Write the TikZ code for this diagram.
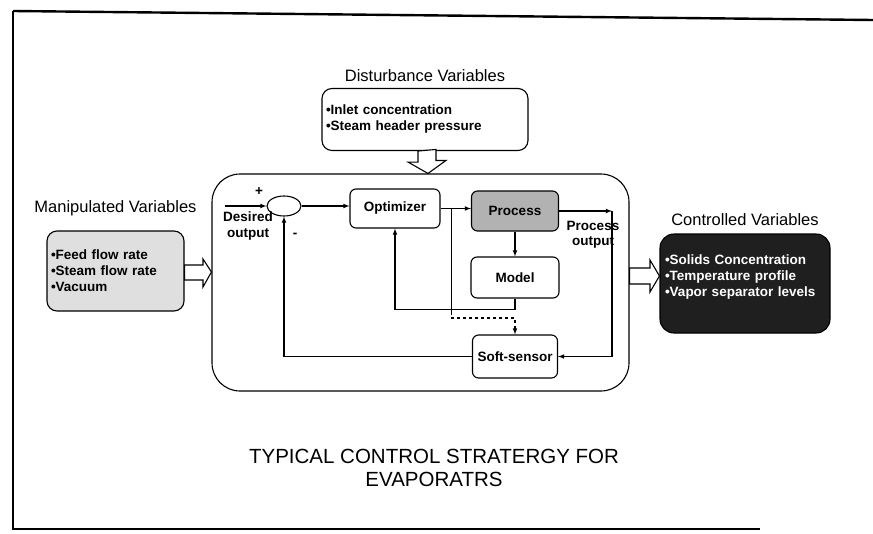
\documentclass[tikz,border=0pt]{standalone}
\usepackage{fontspec}
\setmainfont{Liberation Sans}
\usepackage{tikz}
\usetikzlibrary{positioning,shapes.geometric,calc}

\begin{document}
\begin{tikzpicture} [
	x=1pt,y=-1pt,
	text centered,
	node distance=2pt,
	>=latex,
	line width=1.1pt,
	ntitle/.style={
		font=\fontsize{16.5}{19}\selectfont
	},
	nlist/.style={
		rectangle,rounded corners=10pt,draw,align=left,
		font=\bfseries\fontsize{13.5}{16}\selectfont
	},
	nblock/.style={
		rectangle,rounded corners=6pt,draw,
		font=\bfseries\fontsize{13.5}{16}\selectfont
	},
	nlabel/.style={
		align=center,inner sep=0pt,
		font=\bfseries\fontsize{13.5}{15.5}\selectfont
	},
	fat/.style={
		draw,fill=white
	}
]
\useasboundingbox (0,0) rectangle (873,533);
% frame
\draw[line width=2.4pt] (13,11) -- (873,20);
\draw[line width=2.4pt] (13,11) -- (13,529) -- (760,529);

% outer loop box
\node [rectangle,rounded corners=28pt,draw,
	minimum width=417,minimum height=217]	(main) at (420.5,282.5)	{};

% disturbances
\node [nlist,minimum width=206,minimum height=62,text width=198]	(dist) at (425,119.5)
	{•Inlet concentration\\•Steam header pressure};
\node [ntitle]	(distlbl)[above=2pt of dist]	{Disturbance Variables};

% inputs and outputs
\node [nlist,fill=gray!25,minimum width=137,minimum height=80,text width=129]	(manip) at (115.5,271)
	{•Feed flow rate\\•Steam flow rate\\•Vacuum};
\node [ntitle]	(maniplbl)[above=11pt of manip]	{Manipulated Variables};
\node [nlist,rounded corners=14pt,fill=black!88,text=white,minimum width=170,minimum height=99,text width=160]	(ctrl) at (745,283.5)
	{•Solids Concentration\\•Temperature profile\\•Vapor separator levels\\\mbox{}};
\node [ntitle]	(ctrllbl)[above=4pt of ctrl]	{Controlled Variables};

% fat arrows
\draw[fat] ($(dist.south)+(-7,0)$) -- ++(0,11) -- ++(-10,0) -- (main.north -| 428,0) -- ++(18,-13) -- ++(-10,0) -- ++(0,-11) -- cycle;
\draw[fat] (manip.east |- 0,265) -- (203,265) -- (203,259) -- (main.west |- 0,272) -- (203,287) -- (203,280) -- (manip.east |- 0,280) -- cycle;
\draw[fat] (main.east |- 0,268) -- (650,268) -- (650,260) -- (ctrl.west |- 0,276) -- (650,292) -- (650,284) -- (main.east |- 0,284) -- cycle;

% loop blocks
\node [ellipse,draw,minimum width=34,minimum height=20,inner sep=0pt]	(sum) at (284,206)	{};
\node [nblock,minimum width=90,minimum height=39]	(opt) at (395,208.5)	{Optimizer};
\node [nblock,fill=gray!60,minimum width=87,minimum height=40]	(proc) at (515,211)	{Process};
\node [nblock,minimum width=88,minimum height=41]	(model) at (515,277.5)	{Model};
\node [nblock,minimum width=85,minimum height=43]	(soft) at (515,356.5)	{Soft-sensor};

\node [nlabel]	(plus) at (259,192)	{+};
\node [nlabel]	(minus) at (295,235)	{-};
\node [nlabel]	(desired) at (248,226)	{Desired\\output};
\node [nlabel]	(procout) at (593,235)	{Process\\output};

\coordinate (in) at (225,206);
\coordinate (tap) at ($(opt.east)!0.35!(opt.east -| proc.west)$);
\coordinate (tapdash) at (tap |- 0,312);
\coordinate (tapturn) at (tap |- 0,318);
\coordinate (po) at (612,211);

\draw[->] (in) -- (sum.west);
\draw[->] (sum.east) -- (sum.east -| opt.west);
\draw[->] (opt.east) -- (opt.east -| proc.west);
\draw[->] (proc.east) -- (po);
\draw[->] (po) |- (soft.east);
\draw[->] (proc.south) -- (model.north);
\draw[->] (model.south) -- ++(0,11) -| (opt.south);
\draw (tap) -- (tapdash);
\draw[->,dashed] (tapdash) -- (tapturn) -| (soft.north);
\draw[->] (soft.west) -| (sum.south);

% caption
\node [font=\fontsize{20.5}{23}\selectfont,align=center]	(caption) at (434,468)
	{TYPICAL CONTROL STRATERGY FOR\\EVAPORATRS};
\end{tikzpicture}
\end{document}
